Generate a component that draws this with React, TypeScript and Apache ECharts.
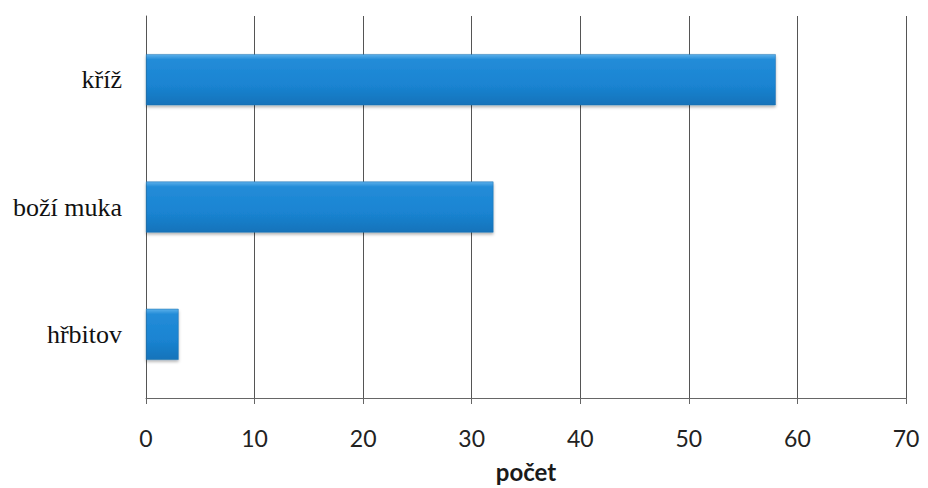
import React, { useEffect, useRef } from "react";
import * as echarts from "echarts";

const categories = ["hřbitov", "boží muka", "kříž"];
const values = [3, 32, 58];
const axisTitle = "počet";

export default function App() {
  const ref = useRef<HTMLDivElement>(null);
  useEffect(() => {
    const chart = echarts.init(ref.current!, undefined, { renderer: "svg" });
    chart.setOption({
      animation: false,
      backgroundColor: "#ffffff",
      grid: { left: 146, right: 22, top: 16, bottom: 86, containLabel: false },
      xAxis: {
        type: "value",
        min: 0,
        max: 70,
        interval: 10,
        name: axisTitle,
        nameLocation: "middle",
        nameGap: 61,
        nameTextStyle: { fontFamily: "Lato", fontWeight: "bold", fontSize: 24, color: "#1a1a1a" },
        axisLine: { show: true, lineStyle: { color: "#666", width: 1 } },
        axisTick: { show: true, length: 6, lineStyle: { color: "#666" } },
        axisLabel: { fontFamily: "Lato", fontSize: 23, color: "#222", margin: 28 },
        splitLine: { show: true, lineStyle: { color: "#555", width: 1 } },
      },
      yAxis: {
        type: "category",
        data: categories,
        axisLine: { show: true, lineStyle: { color: "#555", width: 1 } },
        axisTick: { show: false },
        axisLabel: { fontFamily: "'Liberation Serif', 'Times New Roman', serif", fontSize: 26, color: "#111", margin: 24 },
      },
      series: [
        {
          type: "bar",
          data: values,
          barWidth: 51,
          itemStyle: {
            color: new echarts.graphic.LinearGradient(0, 0, 0, 1, [
              { offset: 0, color: "#5cb0ea" },
              { offset: 0.1, color: "#238cd8" },
              { offset: 0.6, color: "#1a84d2" },
              { offset: 1, color: "#1673ba" },
            ]),
            borderColor: "#1a6fae",
            borderWidth: 0.5,
            shadowColor: "rgba(0,0,0,0.3)",
            shadowBlur: 3,
            shadowOffsetY: 2,
          },
        },
      ],
    });
    return () => chart.dispose();
  }, []);
  return (
    <div
      ref={ref}
      style={{ position: "absolute", left: 0, top: 0, width: 928, height: 488 }}
    />
  );
}
